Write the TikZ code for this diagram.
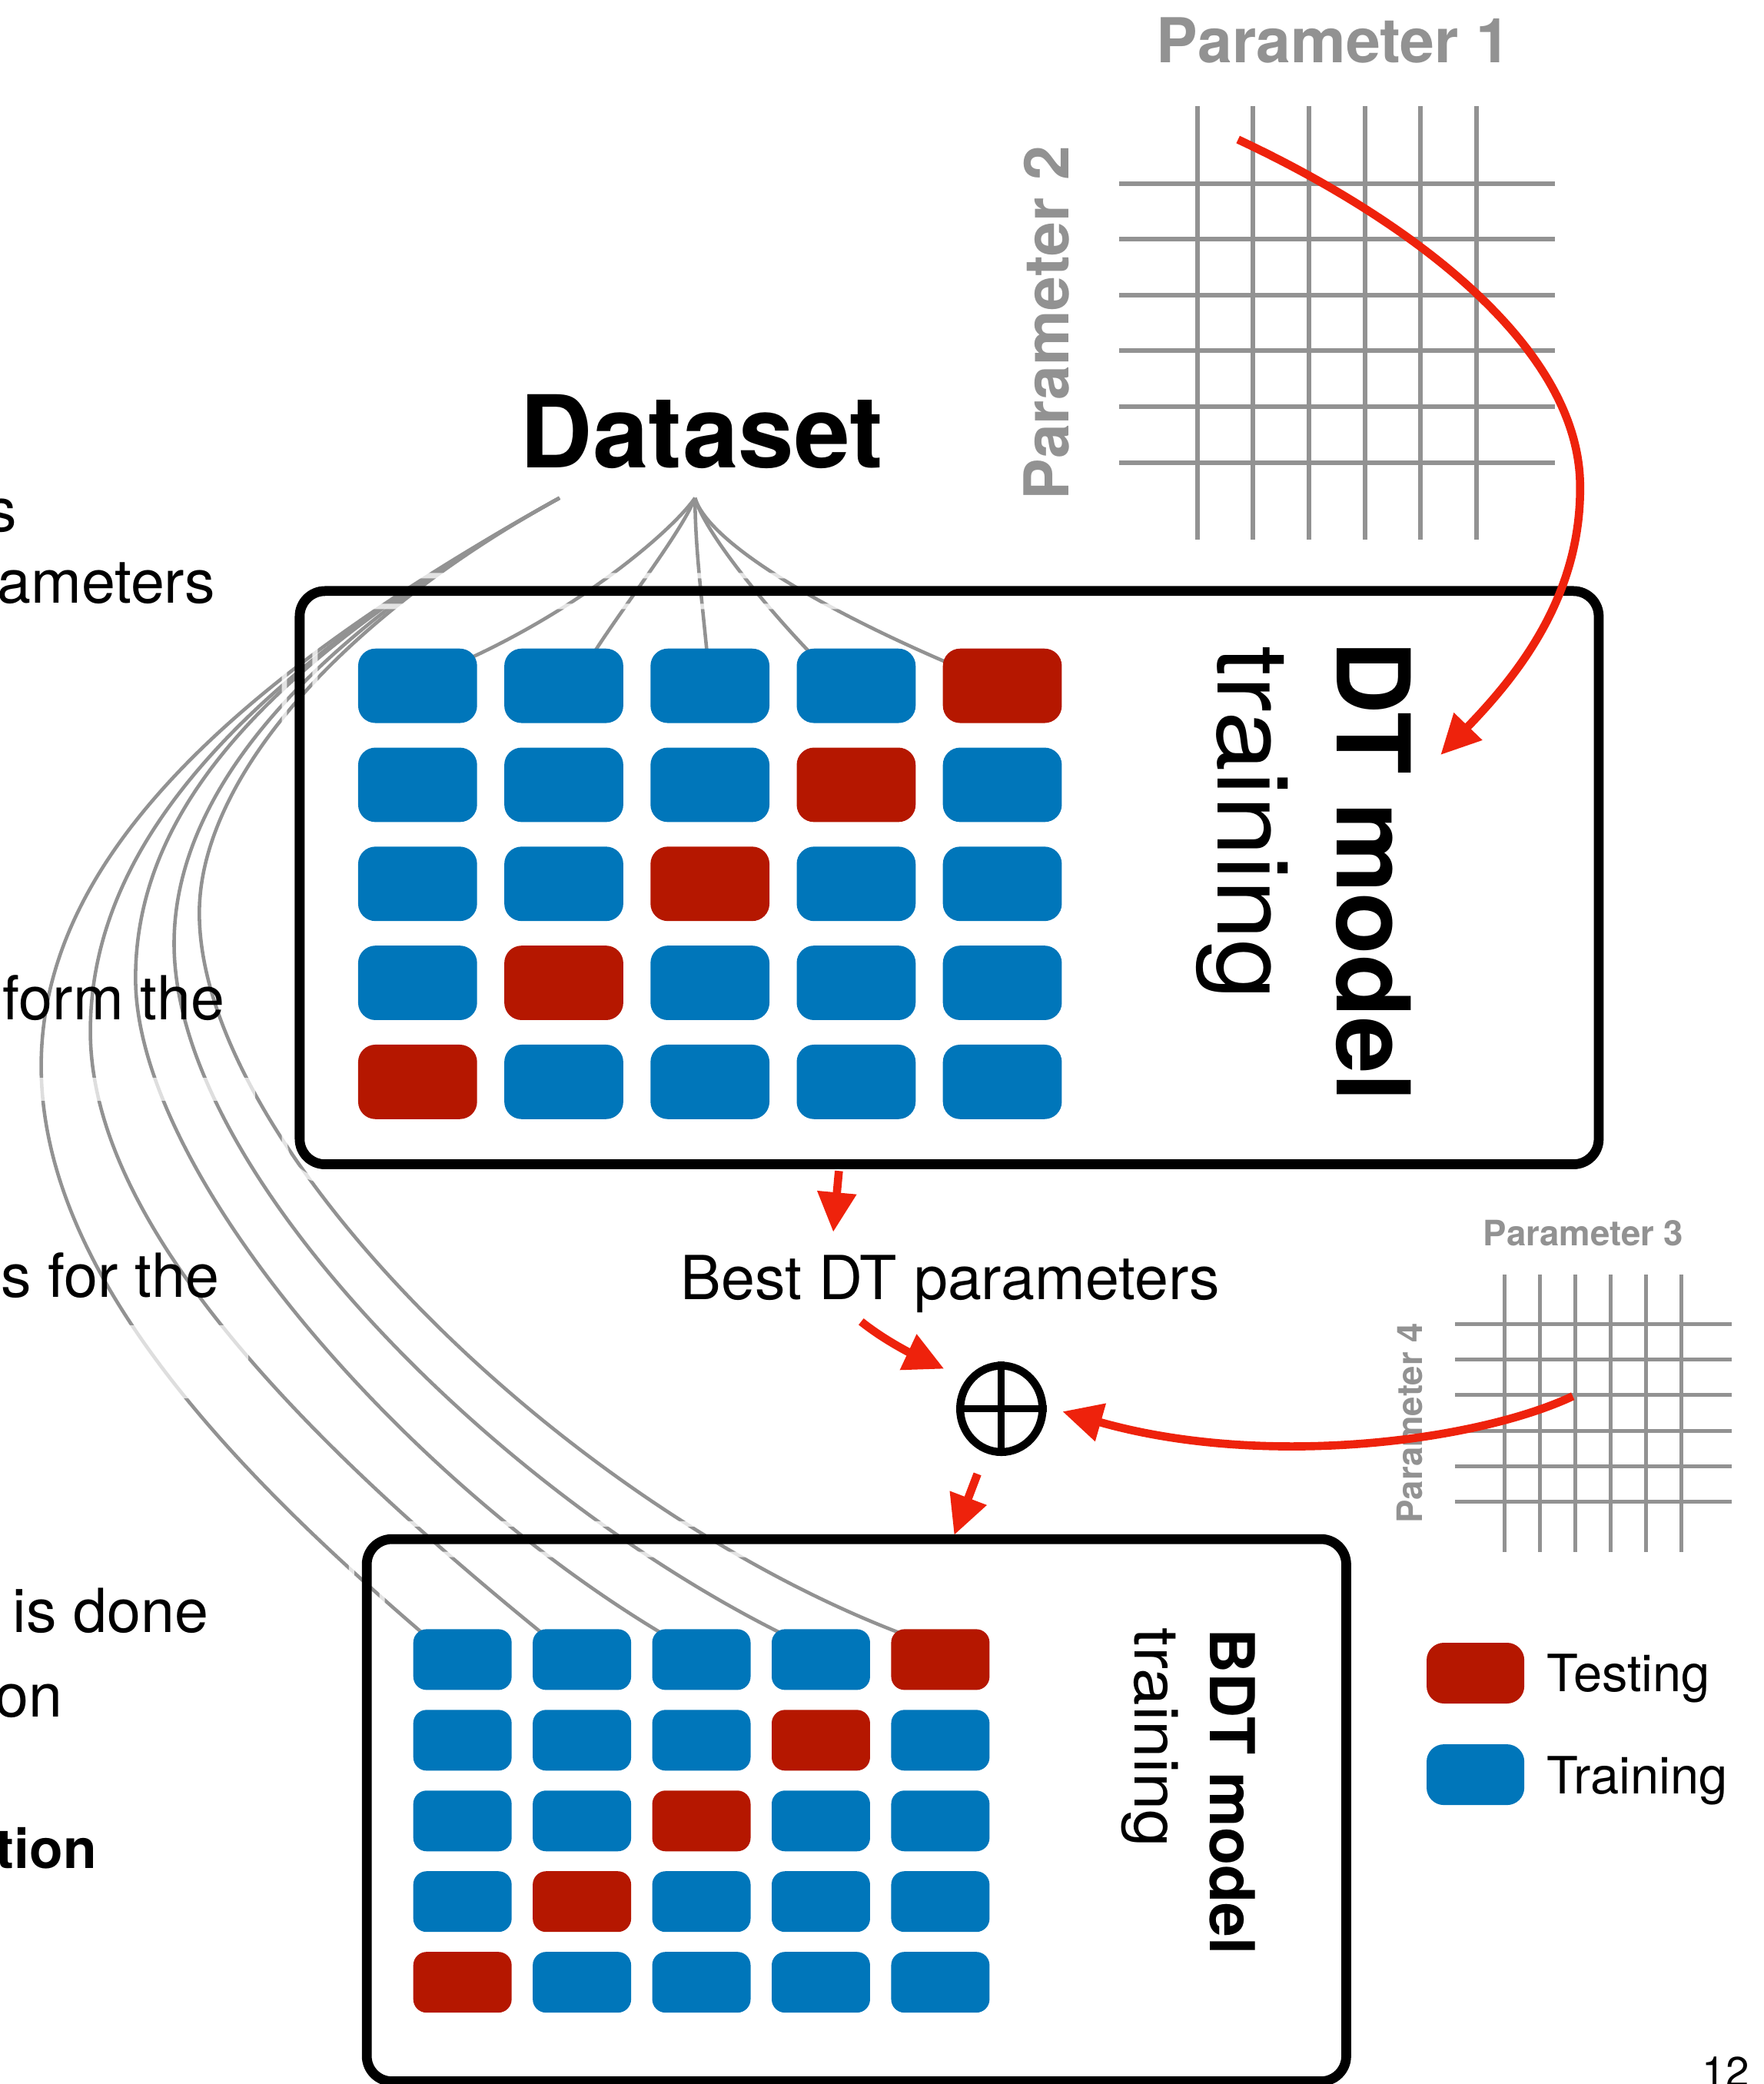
\documentclass[tikz,border=0pt]{standalone}
\usepackage{graphicx}
\usepackage{fontspec}
\setmainfont{TeX Gyre Heros}
\usetikzlibrary{arrows.meta,calc,shapes.geometric}

\definecolor{tblue}{HTML}{0076BA}
\definecolor{tred}{HTML}{B51700}
\definecolor{arrowred}{HTML}{EE220C}
\definecolor{gridgray}{HTML}{929292}

\pgfdeclarelayer{lines}
\pgfsetlayers{lines,main}

\tikzset{
  dtblk/.style={rectangle, rounded corners=2.6mm, minimum width=17.9mm,
    minimum height=11.2mm, inner sep=0pt, outer sep=0pt},
  bdtblk/.style={rectangle, rounded corners=2mm, minimum width=14.8mm,
    minimum height=9.14mm, inner sep=0pt, outer sep=0pt},
  legblk/.style={rectangle, rounded corners=2.6mm, minimum width=14.7mm,
    minimum height=9.14mm, inner sep=0pt, outer sep=0pt},
  frame/.style={rectangle, draw=black, line width=4.2pt, rounded corners=3.8mm,
    inner sep=0pt, outer sep=0pt},
  halo/.style={draw=white, draw opacity=0.75, line width=2.3pt},
  fanline/.style={draw=gridgray, line width=1.5pt},
  gridline/.style={draw=gridgray, line width=2pt},
  gridlinesm/.style={draw=gridgray, line width=1.65pt},
  redarrow/.style={draw=arrowred, line width=3.5pt,
    -{Triangle[length=17pt,width=16pt]}},
  txt/.style={inner sep=0pt, outer sep=0pt},
  paramlbl/.style={inner sep=0pt, outer sep=0pt, text=gridgray},
}

\begin{document}
\begin{tikzpicture}[x=0.2mm, y=-0.2mm]
  \useasboundingbox (0,0) rectangle (1327,1568);

  % ---------- titles and labels ----------
  \node[txt, anchor=base, font=\bfseries\fontsize{43}{50}\selectfont]
    (dataset) at (528,352) {Dataset};

  \node[txt, anchor=base west, font=\fontsize{26}{30}\selectfont] (l1) at (-10,400) {s};
  \node[txt, anchor=base east, font=\fontsize{26}{30}\selectfont] (l2) at (162,454) {ameters};
  \node[txt, anchor=base east, font=\fontsize{26}{30}\selectfont] (l3) at (169,767) {form the};
  \node[txt, anchor=base east, font=\fontsize{26}{30}\selectfont] (l4) at (165,976) {s for the};
  \node[txt, anchor=base east, font=\fontsize{26}{30}\selectfont] (l5) at (157,1228) {is done};
  \node[txt, anchor=base east, font=\fontsize{26}{30}\selectfont] (l6) at (47,1292) {on};
  \node[txt, anchor=base west, font=\bfseries\fontsize{23.5}{28}\selectfont] (l7) at (-3,1406) {tion};

  % ---------- parameter grids ----------
  \node[paramlbl, anchor=base, font=\bfseries\fontsize{26.5}{30}\selectfont]
    (p1) at (1003.5,47) {Parameter 1};
  \node[paramlbl, anchor=base, rotate=90, font=\bfseries\fontsize{26.5}{30}\selectfont]
    (p2) at (804,243) {Parameter 2};
  \foreach \gx in {901,943,985,1027,1069,1111}
    \draw[gridline] (\gx,80) -- (\gx,406);
  \foreach \gy in {138,180,222,264,306,348}
    \draw[gridline] (842,\gy) -- (1170,\gy);

  \node[paramlbl, anchor=base, font=\bfseries\fontsize{15}{18}\selectfont]
    (p3) at (1191.5,937) {Parameter 3};
  \node[paramlbl, anchor=base, rotate=90, font=\bfseries\fontsize{15}{18}\selectfont]
    (p4) at (1070,1070.7) {Parameter 4};
  \foreach \gx in {1132,1158.7,1185.4,1212,1238.7,1265.4}
    \draw[gridlinesm] (\gx,959) -- (\gx,1168);
  \foreach \gy in {996,1022.8,1049.6,1076.4,1103.2,1130}
    \draw[gridlinesm] (1095,\gy) -- (1303,\gy);

  % ---------- light bands of the left text column ----------
  \fill[white, opacity=0.7] (0,811) rectangle (192,828);
  \fill[white, opacity=0.7] (0,997) rectangle (187,1052);

  % ---------- DT model training box ----------
  \draw[halo, rounded corners=5.9mm] (214,433.2) rectangle (1214.5,887.5);
  \draw[halo, rounded corners=1.3mm] (237,456.2) rectangle (1191.5,864.5);
  \node[frame, minimum width=195.5mm, minimum height=86.26mm]
    (dtbox) at (714.25,660.35) {};

  \foreach \i in {1,...,5}{
    \foreach \j in {1,...,5}{
      \ifnum\numexpr\i+\j\relax=6 \def\bc{tred}\else\def\bc{tblue}\fi
      \node[dtblk, fill=\bc] (d-\i-\j) at ({314.25+110*(\j-1)},{516+74.5*(\i-1)}) {};
    }
  }

  \node[txt, rotate=-90, anchor=base west, font=\bfseries\fontsize{43.5}{50}\selectfont]
    (dtl1) at (1006,482) {DT model};
  \node[txt, rotate=-90, anchor=base west, font=\fontsize{42.5}{50}\selectfont]
    (dtl2) at (916.6,486) {\scalebox{1.09}[1]{training}};

  % ---------- BDT model training box ----------
  \draw[halo, rounded corners=5.9mm] (264.5,1146.5) rectangle (1024.5,1577.5);
  \draw[halo, rounded corners=1.3mm] (287.5,1169.5) rectangle (1001.5,1554.5);
  \node[frame, minimum width=147.4mm, minimum height=81.6mm]
    (bdtbox) at (644.5,1362) {};

  \foreach \i in {1,...,5}{
    \foreach \j in {1,...,5}{
      \ifnum\numexpr\i+\j\relax=6 \def\bc{tred}\else\def\bc{tblue}\fi
      \node[bdtblk, fill=\bc] (b-\i-\j) at ({348+89.9*(\j-1)},{1248.65+60.7*(\i-1)}) {};
    }
  }

  \node[txt, rotate=-90, anchor=base west, font=\bfseries\fontsize{26.5}{30}\selectfont]
    (bdtl1) at (910.7,1225.5) {BDT model};
  \node[txt, rotate=-90, anchor=base west, font=\fontsize{26.3}{30}\selectfont]
    (bdtl2) at (854,1225) {\scalebox{1.09}[1]{training}};

  % ---------- combination step ----------
  \node[txt, anchor=base, font=\fontsize{26}{30}\selectfont]
    (best) at (715,978) {Best DT parameters};
  \node[ellipse, draw=black, line width=3.4pt, minimum width=12.4mm,
    minimum height=13mm, inner sep=0pt] (oplus) at (753.5,1060) {};
  \draw[line width=2.9pt] (oplus.north) -- (oplus.south)
                          (oplus.west) -- (oplus.east);

  % ---------- legend ----------
  \node[legblk, fill=tred] (legtest) at (1110.25,1258.85) {};
  \node[legblk, fill=tblue] (legtrain) at (1110.25,1335.25) {};
  \node[txt, anchor=base west, font=\fontsize{22}{24}\selectfont]
    (legtesttxt) at (1164,1273) {Testing};
  \node[txt, anchor=base west, font=\fontsize{22}{24}\selectfont]
    (legtraintxt) at (1164,1349.5) {Training};

  \node[txt, anchor=base west, font=\fontsize{18}{20}\selectfont]
    (page) at (1281,1570) {12};

  % ---------- dataset split lines ----------
  \coordinate (dsA) at ($(dataset.south)+(-5,22)$);
  \coordinate (dsB) at ($(dataset.south)+(-107,22)$);
  \begin{pgfonlayer}{lines}
    \draw[fanline] (dsA) .. controls (505,400) and (440,455) .. ($(d-1-1.north east)+(-3.6,6.4)$);
    \draw[fanline] (dsA) .. controls (513,400) and (470,455) .. ($(d-1-2.north)+(22.75,3)$);
    \draw[fanline] (dsA) .. controls (523,410) and (528,450) .. ($(d-1-3.north)+(-2.25,3)$);
    \draw[fanline] (dsA) .. controls (530,400) and (575,455) .. ($(d-1-4.north)+(-34.75,3)$);
    \draw[fanline] (dsA) .. controls (532,405) and (605,452) .. ($(d-1-5.north west)+(2,10)$);

    \draw[fanline] (dsB) .. controls (150,525) and (31,660) .. (31,802)
      .. controls (31,960) and (180,1110) .. ($(b-1-1.north west)+(7,3)$);
    \draw[fanline] (dsB) .. controls (175,511) and (68,640) .. (68,776)
      .. controls (68,930) and (250,1100) .. ($(b-1-2.north west)+(7,3)$);
    \draw[fanline] (dsB) .. controls (200,497) and (102,610) .. (102,736)
      .. controls (102,880) and (300,1110) .. ($(b-1-3.north west)+(7,3)$);
    \draw[fanline] (dsB) .. controls (225,483) and (131,600) .. (131,710)
      .. controls (131,880) and (370,1120) .. ($(b-1-4.north west)+(7,3)$);
    \draw[fanline] (dsB) .. controls (250,469) and (150,590) .. (150,687)
      .. controls (150,860) and (420,1130) .. ($(b-1-5.north west)+(7,3)$);
  \end{pgfonlayer}

  % ---------- red arrows ----------
  \coordinate (g1s) at (931.6,105);
  \coordinate (dtin) at (1084,568);
  \coordinate (g2s) at (1183.5,1050.5);
  \coordinate (bestin) at (627,927);

  \draw[redarrow] (g1s) .. controls (1060,165) and (1188,260) .. (1189,365)
    .. controls (1190,450) and (1140,510) .. (dtin);
  \draw[redarrow] ($(dtbox.south)+(-83,5)$) -- (bestin);
  \draw[redarrow] ($(best.south)+(-67,6.4)$) .. controls (665,1008) and (685,1018)
    .. ($(oplus.north west)+(-19,-5)$);
  \draw[redarrow] (g2s) .. controls (1110,1085) and (950,1105) .. ($(oplus.east)+(12,2)$);
  \draw[redarrow] ($(oplus.south)+(-18,13.5)$) -- ($(bdtbox.north)+(73.5,-3)$);
\end{tikzpicture}
\end{document}
